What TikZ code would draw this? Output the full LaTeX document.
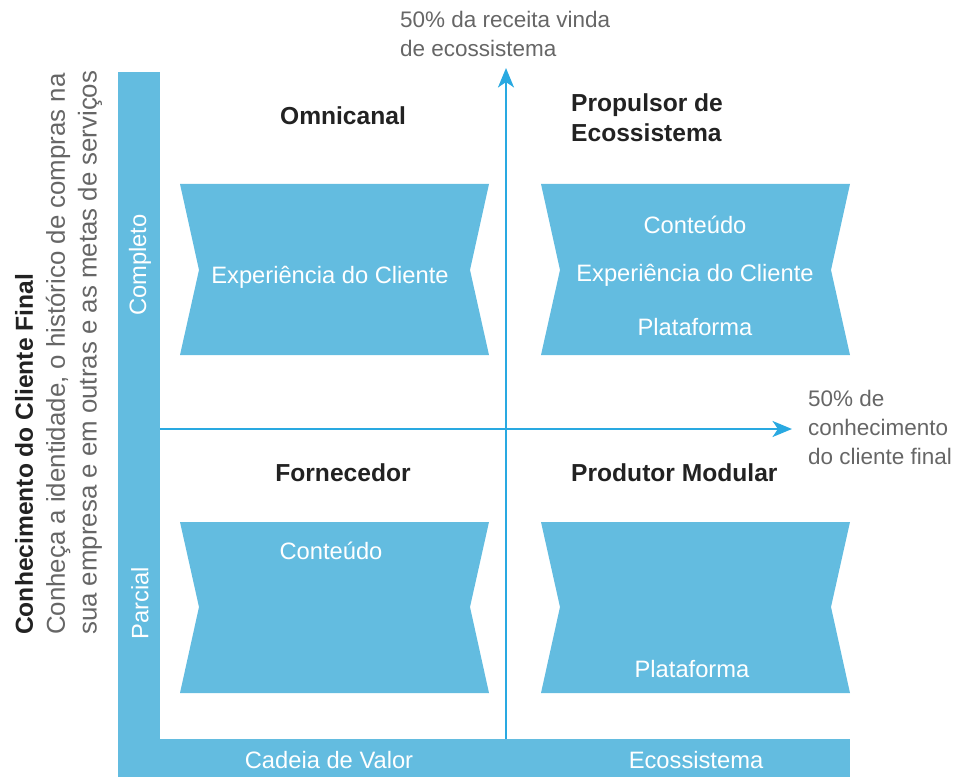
\documentclass[tikz,border=0pt]{standalone}
\usepackage{fontspec}
\setmainfont{Liberation Sans}
\usetikzlibrary{arrows.meta}

\definecolor{barblue}{HTML}{63BCE0}
\definecolor{axisblue}{HTML}{29A9E1}
\definecolor{notegray}{HTML}{666666}
\definecolor{titleink}{HTML}{222222}

\tikzset{
  boxfill/.style={fill=barblue},
  boxtext/.style={text=white,font=\fontsize{13.5}{15}\selectfont},
  quadtitle/.style={text=titleink,font=\fontsize{14}{17}\selectfont\bfseries,align=left},
  axisnote/.style={text=notegray,font=\fontsize{12.8}{16.5}\selectfont,align=left,anchor=west},
  axisline/.style={axisblue,line width=1.7pt,-{Stealth[length=11pt,width=9pt,inset=3pt]}}
}

\begin{document}
\begin{tikzpicture}[x=0.02cm,y=-0.02cm]
\useasboundingbox (0,0) rectangle (958,777);

% bars on the left and at the bottom
\fill[boxfill] (118,72) rectangle (160,777);
\fill[boxfill] (118,739) rectangle (850,777);
\node[boxtext,rotate=90] (completo) at (140,265) {Completo};
\node[boxtext,rotate=90] (parcial) at (140,603) {Parcial};
\node[boxtext] (cadeia) at (329,760) {Cadeia de Valor};
\node[boxtext] (ecos) at (696,760) {Ecossistema};

% axes
\coordinate (vbot) at (506,739);
\coordinate (vtop) at (506,68);
\coordinate (hleft) at (160,429);
\coordinate (hright) at (792,429);
\draw[axisline] (vbot)--(vtop);
\draw[axisline] (hleft)--(hright);

\node[axisnote] (ynote) at (394,34) {50\% da receita vinda\\de ecossistema};
\node[axisnote] (xnote) at (802,427) {50\% de\\conhecimento\\do cliente final};

% left side texts
\node[rotate=90,anchor=west,text=titleink,font=\fontsize{14}{17}\selectfont\bfseries] (kname) at (24,641) {Conhecimento do Cliente Final};
\node[rotate=90,anchor=west,text=notegray,font=\fontsize{14.7}{17}\selectfont] (kdesc1) at (58,641) {Conheça a identidade, o histórico de compras na};
\node[rotate=90,anchor=west,text=notegray,font=\fontsize{14.7}{17}\selectfont] (kdesc2) at (90,641) {sua empresa e em outras e as metas de serviços};

% quadrant titles
\node[quadtitle] (omni) at (343,116) {Omnicanal};
\node[quadtitle,anchor=west] (propulsor) at (565,118) {Propulsor de\\Ecossistema};
\node[quadtitle] (fornec) at (343,473) {Fornecedor};
\node[quadtitle,anchor=west] (produtor) at (565,473) {Produtor Modular};

% notched boxes
\fill[boxfill] (180,184)--(489,184)--(470,270)--(489,355)--(180,355)--(199,270)--cycle;
\fill[boxfill] (541,184)--(850,184)--(831,270)--(850,355)--(541,355)--(560,270)--cycle;
\fill[boxfill] (180,522)--(489,522)--(470,607)--(489,693)--(180,693)--(199,607)--cycle;
\fill[boxfill] (541,522)--(850,522)--(831,607)--(850,693)--(541,693)--(560,607)--cycle;

\node[boxtext] (tlexp) at (330,277) {Experiência do Cliente};
\node[boxtext] (trcont) at (695,225) {Conteúdo};
\node[boxtext] (trexp) at (695,275) {Experiência do Cliente};
\node[boxtext] (trplat) at (695,327) {Plataforma};
\node[boxtext] (blcont) at (331,551) {Conteúdo};
\node[boxtext] (brplat) at (692,669) {Plataforma};
\end{tikzpicture}
\end{document}
